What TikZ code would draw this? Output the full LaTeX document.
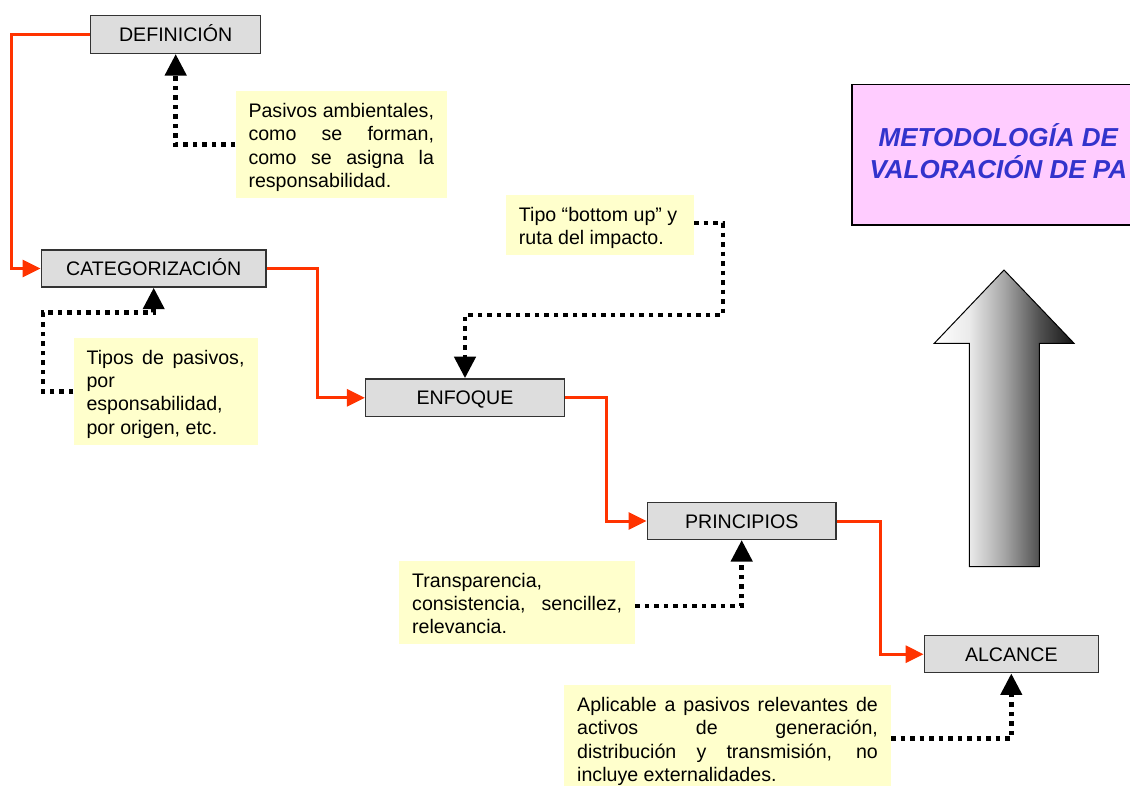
\documentclass[tikz,border=0pt]{standalone}
\usepackage{fontspec}
\setmainfont{Liberation Sans}
\usetikzlibrary{arrows.meta,calc}
\definecolor{flowred}{HTML}{FF3300}
\definecolor{boxgray}{HTML}{DDDDDD}
\definecolor{boxedge}{HTML}{333333}
\definecolor{notefill}{HTML}{FFFFCC}
\definecolor{titlefill}{HTML}{FFCCFF}
\definecolor{titleblue}{HTML}{3333CC}
% grey ramp for the big upward arrow (path spans 25bp..75bp)
\pgfdeclarehorizontalshading{upshade}{100bp}{color(0bp)=(white); color(25bp)=(white); color(37.5bp)=(black!8); color(50bp)=(black!35); color(62.5bp)=(black!68); color(75bp)=(black!92); color(100bp)=(black!92)}
% a line stretched to the full text width (justified)
\newcommand{\jline}[1]{\makebox[\linewidth][s]{\spaceskip=0pt\xspaceskip=0pt #1}}
% first-line height and last-line depth of every note, with the font's own spaces
\newcommand{\topstrut}{\spaceskip=0pt\xspaceskip=0pt\rule{0pt}{20.8pt}}
\newcommand{\botstrut}{\rule[-5pt]{0pt}{5pt}}

\begin{document}
\begin{tikzpicture}[x=1pt,y=-1pt,
  every node/.style={font=\fontsize{19.6}{23.3}\selectfont},
  stepbox/.style={draw=boxedge, line width=1.5pt, fill=boxgray, inner sep=0pt,
    text height=14pt, text depth=0pt},
  note/.style={fill=notefill, anchor=north west, inner xsep=13pt, inner ysep=5.5pt,
    align=left, text width=#1},
  flow/.style={draw=flowred, line width=3pt, -{Triangle[length=18pt,width=17pt]}},
  link/.style={draw=black, line width=4.5pt, dash pattern=on 4.5pt off 5pt,
    -{Triangle[length=21.5pt,width=21pt]}},
]
\useasboundingbox (0,0) rectangle (1130,786);
\fill[white] (0,0) rectangle (1130,786);
\clip (0,0) rectangle (1130,786);

% process steps
\node[stepbox, minimum width=170pt, minimum height=37.6pt] (def) at (175.7,34.5) {DEFINICIÓN};
\node[stepbox, minimum width=224.7pt, minimum height=37pt] (cat) at (153.7,268.5) {CATEGORIZACIÓN};
\node[stepbox, minimum width=198.6pt, minimum height=37.7pt] (enf) at (465,397.8) {ENFOQUE};
\node[stepbox, minimum width=188.7pt, minimum height=36.6pt] (pri) at (741.7,521) {PRINCIPIOS};
\node[stepbox, minimum width=174pt, minimum height=37pt] (alc) at (1011.3,654.2) {ALCANCE};

% explanatory notes
\node[note=185.5pt] (n1) at (235.3,91) {\topstrut\jline{Pasivos ambientales,}\\\jline{como se forman,}\\\jline{como se asigna la}\\responsabilidad.\botstrut};
\node[note=158pt] (n2) at (73.3,337.7) {\topstrut\jline{Tipos de pasivos,}\\por\\esponsabilidad,\\por origen, etc.\botstrut};
\node[note=162pt] (n3) at (505.7,195) {\topstrut Tipo “bottom up” y\\ruta del impacto.\botstrut};
\node[note=210pt] (n4) at (399,560.7) {\topstrut Transparencia,\\\jline{consistencia, sencillez,}\\relevancia.\botstrut};
\node[note=300.7pt] (n5) at (564,685) {\topstrut\jline{Aplicable a pasivos relevantes de}\\\jline{activos de generación,}\\\jline{distribución y transmisión, no}\\incluye externalidades.\botstrut};

% title panel
\node[draw=black, line width=1.5pt, fill=titlefill, anchor=north west, inner sep=0pt,
  minimum width=320pt, minimum height=140.3pt] (titlebox) at (851,84) {};
\node[anchor=base, inner sep=0pt, text=titleblue,
  font=\fontsize{26}{31.6}\selectfont\bfseries\itshape] (title) at (998.3,146.7)
  {\parbox[t]{320pt}{\centering METODOLOGÍA DE\\VALORACIÓN DE PA}};

% big shaded upward arrow
\shadedraw[shading=upshade, draw=black, line width=1pt]
  (1004,270) -- (1074,343.3) -- (1039.3,343.3) -- (1039.3,566.7)
  -- (969.3,566.7) -- (969.3,343.3) -- (934.3,343.3) -- cycle;

% main flow
\draw[flow] (def.west) -- ++(-78.4,0) |- (cat.west);
\draw[flow] (cat.east) -- ++(50.3,0) |- (enf.west);
\draw[flow] (enf.east) -- ++(41,0) |- (pri.west);
\draw[flow] (pri.east) -- ++(44,0) |- (alc.west);

% note links
\draw[link] (n1.west) -| (def.south);
\draw[link] (n2.west) -- ++(-30.3,0) |- ($(cat.south)+(0,25)$) -- (cat.south);
\draw[link] ($(n3.east)+(0,-2)$) -- ++(28.7,0) |- ($(enf.north)+(0,-63)$) -- (enf.north);
\draw[link] ($(n4.east)+(0,3.5)$) -| (pri.south);
\draw[link] (n5.east) -| (alc.south);
\end{tikzpicture}
\end{document}
